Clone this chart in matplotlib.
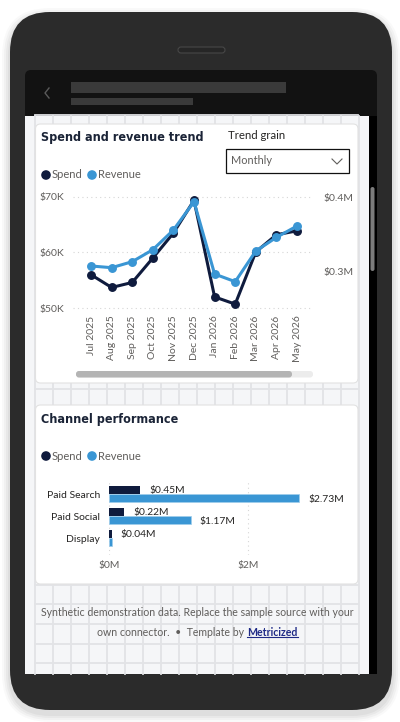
import matplotlib
matplotlib.use("Agg")
import matplotlib.pyplot as plt
from matplotlib import font_manager
from matplotlib.patches import FancyBboxPatch, Rectangle, Circle
import numpy as np

# ---- data ----
months = ["Jul 2025", "Aug 2025", "Sep 2025", "Oct 2025", "Nov 2025", "Dec 2025",
          "Jan 2026", "Feb 2026", "Mar 2026", "Apr 2026", "May 2026"]
spend_k = [56.0, 53.7, 54.6, 59.0, 63.5, 69.4, 52.0, 50.7, 60.1, 63.2, 63.9]
revenue_k = [306.8, 304.5, 312.6, 328.8, 355.4, 393.7, 295.9, 285.6, 327.0, 345.5, 360.8]

channels = ["Paid Search", "Paid Social", "Display"]
channel_spend_m = [0.45, 0.22, 0.04]
channel_revenue_m = [2.73, 1.17, 0.05]

# ---- style ----
NAVY = "#0f1b3d"
BLUE = "#3a96d4"
TXT = "#605e5c"
DARK = "#252423"
FONT = "Lato"
plt.rcParams["font.family"] = [FONT, "DejaVu Sans"]

# narrow bold face for the card titles, if one is around
title_kw = dict(family=["Lato", "DejaVu Sans"], fontweight="bold", fontsize=8.0)
for f in font_manager.fontManager.ttflist:
    narrow = ("Condensed" in f.name or "Narrow" in f.name
              or f.stretch in ("condensed", "semi-condensed", "narrow"))
    w = f.weight if isinstance(f.weight, int) else 700 if f.weight == "bold" else 400
    if narrow and w >= 600:
        title_kw = dict(family=[f.name, "DejaVu Sans"], fontweight="bold",
                        fontstretch=f.stretch, fontsize=9.0)
        break

W, H = 400, 722
fig = plt.figure(figsize=(W / 100, H / 100), dpi=100)
fig.patch.set_facecolor("white")


def px_axes(x0, y0, x1, y1):
    return fig.add_axes([x0 / W, 1 - y1 / H, (x1 - x0) / W, (y1 - y0) / H])


def rbox(ax, x0, y0, x1, y1, r, **kw):
    p = FancyBboxPatch((x0, y0), x1 - x0, y1 - y0,
                       boxstyle=f"round,pad=0,rounding_size={r}", **kw)
    ax.add_patch(p)
    return p


bg = fig.add_axes([0, 0, 1, 1])
bg.set_xlim(0, W)
bg.set_ylim(H, 0)
bg.axis("off")

# phone shadow + body
for i, a in enumerate([0.025, 0.03, 0.035, 0.04]):
    d = 8 - 2 * i
    rbox(bg, 10 - d, 12 - d + 4, 392 + d, 710 + d + 4, 40 + d, fc="#000000", ec="none", alpha=a)
rbox(bg, 10, 12, 392, 710, 40, fc="#2b2b2b", ec="none")
rbox(bg, 178, 47, 225, 53, 3, fc="#262626", ec="#474747", lw=0.8)

# screen
rbox(bg, 25, 70, 377, 674, 6, fc="#121212", ec="none")
bg.add_patch(Rectangle((25, 116), 344, 558, fc="#f5f6f8", ec="none"))
bg.add_patch(Rectangle((369, 116), 8, 558, fc="#000000", ec="none"))
rbox(bg, 370.5, 187, 374.5, 271, 2, fc="#7c7c7c", ec="none")

# header
bg.plot([49, 45, 49], [88, 93, 98], color="#5a5a5a", lw=1.0)
bg.add_patch(Rectangle((71, 82), 215, 11, fc="#3a3a3a", ec="none"))
bg.add_patch(Rectangle((71, 98), 122, 7, fc="#3a3a3a", ec="none"))

# canvas grid
for gx in np.arange(35, 360, 18):
    bg.plot([gx, gx], [116, 674], color="#e2e3e6", lw=1.3, zorder=1)
for gy in np.arange(114.5, 674, 19.6):
    bg.plot([35, 358], [gy, gy], color="#e2e3e6", lw=1.3, zorder=1)

# cards
rbox(bg, 35.5, 124, 358, 383, 5, fc="white", ec="#e2e2e2", lw=0.8, zorder=2)
rbox(bg, 35.5, 405, 358, 584, 5, fc="white", ec="#e2e2e2", lw=0.8, zorder=2)

# card 1 header
bg.text(41, 138, "Spend and revenue trend", color="#1b2437", va="center", zorder=3, **title_kw)
bg.text(228, 135.5, "Trend grain", fontsize=8.2, color=DARK, va="center", zorder=3)
bg.add_patch(Rectangle((225.5, 148.5), 123, 24, fc="white", ec="#111111", lw=0.9, zorder=3))
bg.text(230.5, 161, "Monthly", fontsize=7.9, color=TXT, va="center", zorder=4)
bg.plot([332, 337, 342], [159, 164, 159], color="#605e5c", lw=0.8, zorder=4)


def legend(ax, y):
    ax.add_patch(Circle((46, y), 4.8, fc=NAVY, ec="none", zorder=4))
    ax.text(52, y, "Spend", fontsize=8.0, color=TXT, va="center", zorder=4)
    ax.add_patch(Circle((92, y), 4.8, fc=BLUE, ec="none", zorder=4))
    ax.text(98, y, "Revenue", fontsize=8.0, color=TXT, va="center", zorder=4)


legend(bg, 175)

# horizontal scrollbar
rbox(bg, 76, 371, 313, 377.5, 3, fc="#ececec", ec="none", zorder=3)
rbox(bg, 76, 371, 292, 377.5, 3, fc="#b4b4b4", ec="none", zorder=4)

# ---- line chart ----
ax1 = px_axes(73, 190, 312, 312)
ax1.set_facecolor("none")
x = np.arange(len(months))
ax1.plot(x, spend_k, color=NAVY, lw=2.2, marker="o", ms=5.4, zorder=3)
ax1.set_xlim(-0.874, 10.728)
ax1.set_ylim(49.28, 71.26)
ax1.set_yticks([50, 60, 70])
ax1.set_yticklabels([f"${v}K" for v in [50, 60, 70]])
ax1.set_xticks(x)
ax1.set_xticklabels(months, rotation=90)
ax1.grid(axis="y", color="#d6d6d6", lw=0.8, ls=(0, (1, 3)))
ax1.tick_params(axis="y", length=0, pad=6, labelsize=7.5, labelcolor=TXT)
ax1.tick_params(axis="x", length=0, pad=2.5, labelsize=7.5, labelcolor=TXT)
for s in ax1.spines.values():
    s.set_visible(False)

ax2 = ax1.twinx()
ax2.plot(x, revenue_k, color=BLUE, lw=2.2, marker="o", ms=5.4, zorder=3)
ax2.set_ylim(244.6, 409.5)
ax2.set_yticks([300, 400])
ax2.set_yticklabels([f"${v / 1000:.1f}M" for v in [300, 400]])
ax2.tick_params(axis="y", length=0, pad=8, labelsize=7.5, labelcolor=TXT)
for s in ax2.spines.values():
    s.set_visible(False)

# ---- card 2 ----
bg.text(41, 419, "Channel performance", color="#1b2437", va="center", zorder=3, **title_kw)
legend(bg, 456)

ax3 = px_axes(109, 480, 345, 555)
ax3.set_facecolor("none")
y = np.arange(len(channels))
bh = 0.36
ax3.barh(y - bh / 2, channel_spend_m, height=bh, color=NAVY, zorder=3)
ax3.barh(y + bh / 2, channel_revenue_m, height=bh, color=BLUE, edgecolor="#9fcdeb",
         lw=0.5, zorder=3)
off = 9 / 69.7
for yi, v in zip(y, channel_spend_m):
    ax3.text(v + off, yi - bh / 2, f"${v:.2f}M", fontsize=7.4, color=DARK, va="center", zorder=4)
for yi, v in zip(y, channel_revenue_m):
    if v >= 0.1:
        ax3.text(v + off, yi + bh / 2 + 0.08, f"${v:.2f}M", fontsize=7.4, color=DARK,
                 va="center", zorder=4)
ax3.set_ylim(2.77, -0.636)
ax3.set_xlim(0, 3.386)
ax3.set_yticks(y)
ax3.set_yticklabels(channels)
ax3.set_xticks([0, 2])
ax3.set_xticklabels(["$0M", "$2M"])
ax3.grid(axis="x", color="#d6d6d6", lw=0.8, ls=(0, (1, 3)))
ax3.tick_params(axis="y", length=0, pad=6.5, labelsize=7.5, labelcolor=DARK)
ax3.tick_params(axis="x", length=0, pad=4, labelsize=7.4, labelcolor=TXT)
for s in ax3.spines.values():
    s.set_visible(False)

# ---- footer ----
bg.text(197, 613, "Synthetic demonstration data. Replace the sample source with your",
        fontsize=7.6, color=TXT, ha="center", va="center", zorder=3)
part_a = bg.text(0, 632, "own connector.  \u2022  Template by ", fontsize=7.6, color=TXT,
                 ha="left", va="center", zorder=3)
part_b = bg.text(0, 632, "Metricized", fontsize=7.6, color="#1f2a86", fontweight="bold",
                 ha="left", va="center", zorder=3)
r = fig.canvas.get_renderer()
wa = part_a.get_window_extent(r).width
wb = part_b.get_window_extent(r).width
x0 = 197.5 - (wa + wb) / 2
part_a.set_x(x0)
part_b.set_x(x0 + wa)
bg.plot([x0 + wa, x0 + wa + wb], [637, 637], color="#1f2a86", lw=0.8, zorder=3)

fig.savefig("out.png", dpi=100)
